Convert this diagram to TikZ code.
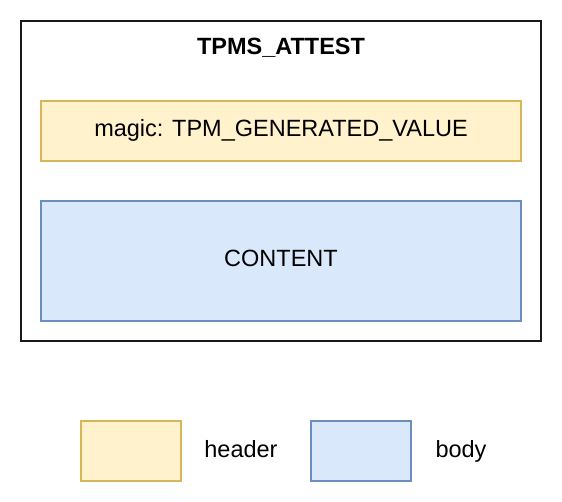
\documentclass[tikz,border=0pt]{standalone}
\usepackage{fontspec}
\setmainfont{Liberation Sans}
\definecolor{hfill}{HTML}{FFF2CC}
\definecolor{hdraw}{HTML}{D6B656}
\definecolor{bfill}{HTML}{DAE8FC}
\definecolor{bdraw}{HTML}{6C8EBF}
\begin{document}
\begin{tikzpicture}[x=1pt,y=-1pt,
  lbl/.style={font=\fontsize{23.5}{28}\selectfont,text height=17pt,text depth=5pt,inner sep=0pt},
  hbox/.style={draw=hdraw,fill=hfill,line width=1.8pt},
  bbox/.style={draw=bdraw,fill=bfill,line width=1.8pt},
]
\useasboundingbox (0,0) rectangle (562,502);
\fill[white] (0,0) rectangle (562,502);
\draw[line width=2pt,black!90] (21,21) rectangle (541,341);
\node[lbl,font=\fontsize{23.5}{28}\selectfont\bfseries] (title) at (281,49) {TPMS\_ATTEST};
\path[hbox] (41,101) rectangle node[lbl] (magic) {magic: TPM\_GENERATED\_VALUE} (521,161);
\path[bbox] (41,201) rectangle node[lbl] (content) {CONTENT} (521,321);
\path[hbox] (81,421) rectangle node (hleg) {} (181,481);
\path[bbox] (311,421) rectangle node (bleg) {} (411,481);
\node[lbl] (htxt) at (241,451) {header};
\node[lbl] (btxt) at (461,451) {body};
\end{tikzpicture}
\end{document}
